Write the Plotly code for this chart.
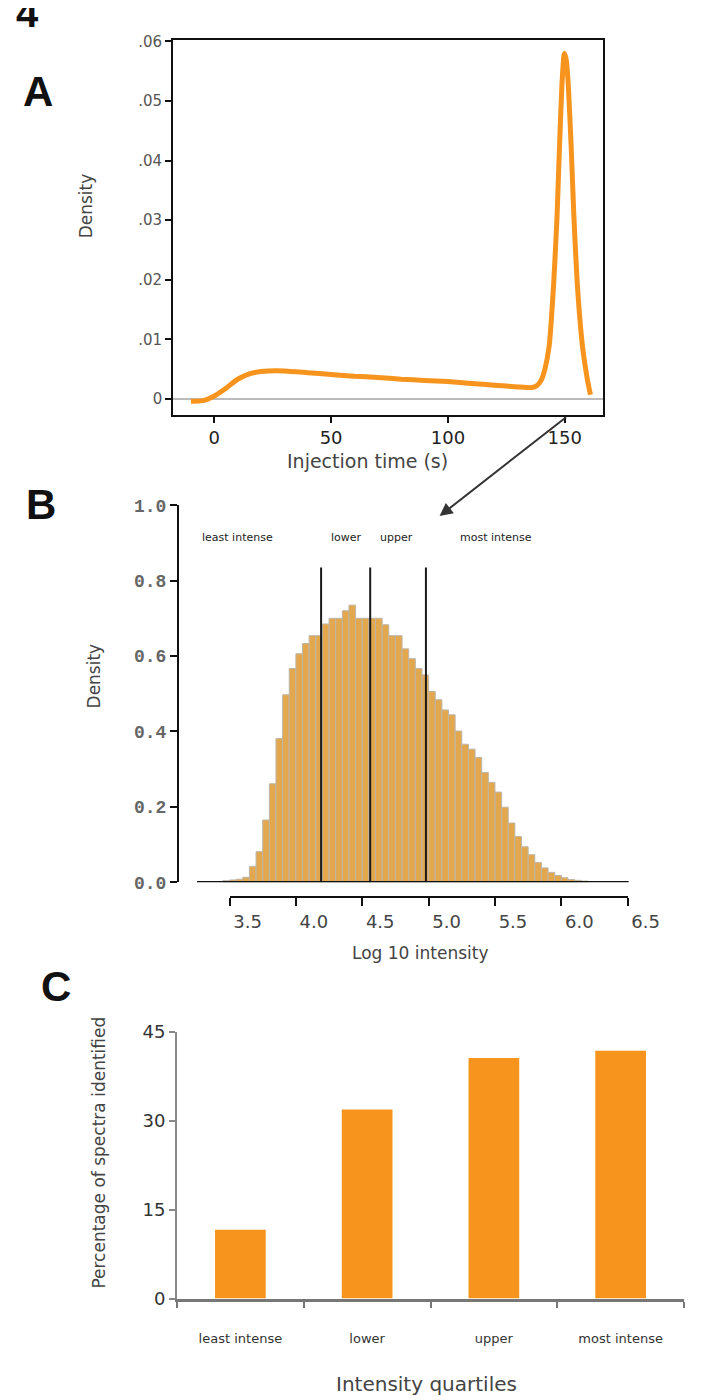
import plotly.graph_objects as go

# ---------------- data ----------------
# Panel A: density of injection time (s)
inj_time = [-10, -5, 0, 5, 10, 15, 20, 30, 40, 50, 60, 70, 80, 90, 100, 110, 120, 130,
            136, 138, 140, 141.5, 143.3, 145.3, 146.7, 147.7, 148.8, 149.8, 150.6, 151.5,
            152.8, 153.9, 155.3, 157.6, 159.7, 161]
inj_density = [-0.0004, -0.0003, 0.0005, 0.0018, 0.0033, 0.0042, 0.0046, 0.0047, 0.0044,
               0.0041, 0.0038, 0.0036, 0.0033, 0.0031, 0.0029, 0.0026, 0.0023, 0.0020,
               0.0019, 0.0022, 0.0032, 0.0050, 0.0088, 0.0197, 0.0307, 0.0418, 0.0528,
               0.0580, 0.0570, 0.0528, 0.0418, 0.0307, 0.0197, 0.0088, 0.0032, 0.0007]
a_yticks = [0, 0.01, 0.02, 0.03, 0.04, 0.05, 0.06]
a_yticktext = ["0", ".01", ".02", ".03", ".04", ".05", ".06"]
a_xticks = [0, 50, 100, 150]

# Panel B: histogram of log10 intensity (bin centres, width 0.05)
bin_centers = [3.475, 3.525, 3.575, 3.625, 3.675, 3.725, 3.775, 3.825, 3.875, 3.925, 3.975,
               4.025, 4.075, 4.125, 4.175, 4.225, 4.275, 4.325, 4.375, 4.425, 4.475, 4.525,
               4.575, 4.625, 4.675, 4.725, 4.775, 4.825, 4.875, 4.925, 4.975, 5.025, 5.075,
               5.125, 5.175, 5.225, 5.275, 5.325, 5.375, 5.425, 5.475, 5.525, 5.575, 5.625,
               5.675, 5.725, 5.775, 5.825, 5.875, 5.925, 5.975, 6.025, 6.075, 6.125, 6.175]
bin_density = [0.004, 0.006, 0.008, 0.013, 0.042, 0.081, 0.165, 0.261, 0.381, 0.497, 0.567,
               0.606, 0.633, 0.654, 0.654, 0.685, 0.700, 0.700, 0.720, 0.735, 0.700, 0.700,
               0.700, 0.700, 0.683, 0.654, 0.654, 0.619, 0.593, 0.567, 0.550, 0.506, 0.484,
               0.457, 0.444, 0.401, 0.366, 0.353, 0.331, 0.291, 0.265, 0.239, 0.199, 0.157,
               0.121, 0.094, 0.073, 0.052, 0.038, 0.026, 0.018, 0.012, 0.007, 0.005, 0.003]
bin_width = 0.05
quartile_cuts = [4.19, 4.56, 4.98]
cut_top = 0.835
quartile_names = ["least intense", "lower", "upper", "most intense"]
quartile_label_x = [3.56, 4.38, 4.76, 5.51]
quartile_label_y = 0.915
b_yticks = [0.0, 0.2, 0.4, 0.6, 0.8, 1.0]
b_yticktext = ["0.0", "0.2", "0.4", "0.6", "0.8", "1.0"]
b_xticks = [3.5, 4.0, 4.5, 5.0, 5.5, 6.0, 6.5]
b_xticktext = ["3.5", "4.0", "4.5", "5.0", "5.5", "6.0", "6.5"]

# Panel C: percentage of spectra identified per intensity quartile
pct_identified = [11.6, 31.9, 40.6, 41.8]
c_yticks = [0, 15, 30, 45]

# ---------------- layout helpers ----------------
W, H = 708, 1400
def fx(p):
    return p / W
def fy(p):
    return 1 - p / H

ORANGE = "#F7941D"
FONT = "DejaVu Sans"

fig = go.Figure()

fig.add_trace(go.Scatter(
    x=inj_time, y=inj_density, mode="lines",
    line=dict(color=ORANGE, width=5, shape="spline", smoothing=0.5),
    xaxis="x", yaxis="y", hoverinfo="skip", showlegend=False))

fig.add_trace(go.Bar(
    x=bin_centers, y=bin_density, width=bin_width,
    marker=dict(color="#E3A84E", line=dict(color="#BDB5A8", width=1)),
    xaxis="x2", yaxis="y2", showlegend=False))

# quartile boundaries, drawn on the lower tick axis of panel B
cut_x, cut_y = [], []
for c in quartile_cuts:
    cut_x += [c, c, None]
    cut_y += [0, cut_top, None]
fig.add_trace(go.Scatter(x=cut_x, y=cut_y, mode="lines",
                         line=dict(color="#1a1a1a", width=2),
                         xaxis="x3", yaxis="y2", hoverinfo="skip", showlegend=False,
                         cliponaxis=False))

fig.add_trace(go.Bar(
    x=quartile_names, y=pct_identified, width=0.4,
    marker=dict(color=ORANGE, line=dict(width=0)),
    xaxis="x4", yaxis="y4", showlegend=False))

annotations = []
for name, lx in zip(quartile_names, quartile_label_x):
    annotations.append(dict(text=name, x=lx, y=quartile_label_y, xref="x2", yref="y2",
                            showarrow=False, font=dict(family=FONT, size=11, color="#222")))

def txt(s, x, y, size, color="#444", angle=0, bold=False, family=FONT):
    return dict(text=("<b>%s</b>" % s) if bold else s, x=fx(x), y=fy(y), xref="paper",
                yref="paper", showarrow=False, textangle=angle,
                xanchor="center", yanchor="middle",
                font=dict(family=family, size=size, color=color))

annotations += [
    txt("4", 20, -6, 40, "#111", bold=True, family="Liberation Sans"),
    txt("A", 31, 74, 42, "#111", bold=True, family="Liberation Sans"),
    txt("B", 35, 493, 42, "#111", bold=True, family="Liberation Sans"),
    txt("C", 50, 983, 42, "#111", bold=True, family="Liberation Sans"),
    txt("Density", 82, 190, 17, "#444", angle=-90),
    txt("Injection time (s)", 376, 449, 19, "#444"),
    txt("Density", 90, 667, 17, "#444", angle=-90),
    txt("Log 10 intensity", 432, 949, 17, "#444"),
    txt("Percentage of spectra identified", 95, 1152, 17, "#444", angle=-90),
    txt("Intensity quartiles", 438, 1387, 20, "#444"),
]
# connector arrow from panel A peak to panel B
annotations.append(dict(x=fx(452), y=fy(505), xref="paper", yref="paper", text="",
                        showarrow=True, ax=580 - 452, ay=405 - 505, axref="pixel",
                        ayref="pixel", arrowhead=2, arrowsize=1.3, arrowwidth=2,
                        arrowcolor="#333"))

shapes = [dict(type="line", xref="paper", yref="y2", x0=fx(198), x1=fx(650), y0=0, y1=0,
               line=dict(color="#111", width=2.5), layer="above")]

fig.update_layout(
    width=W, height=H, margin=dict(l=0, r=0, t=0, b=0),
    paper_bgcolor="white", plot_bgcolor="rgba(0,0,0,0)", showlegend=False,
    annotations=annotations, shapes=shapes,
    xaxis=dict(domain=[fx(173), fx(623)], range=[-17.6, 166.3], anchor="y",
               showline=True, linecolor="#111", linewidth=2, mirror=True,
               ticks="outside", ticklen=6, tickwidth=2, tickcolor="#111",
               tickvals=a_xticks, tickfont=dict(family=FONT, size=18, color="#222"),
               showgrid=False, zeroline=False),
    yaxis=dict(domain=[fy(402), fy(21)], range=[-0.00265, 0.0603], anchor="x",
               showline=True, linecolor="#111", linewidth=2, mirror=True,
               ticks="outside", ticklen=6, tickwidth=2, tickcolor="#111",
               tickvals=a_yticks, ticktext=a_yticktext,
               tickfont=dict(family=FONT, size=15, color="#555"),
               showgrid=False, zeroline=True, zerolinecolor="#BBBBBB", zerolinewidth=2),
    xaxis2=dict(domain=[fx(198), fx(650)], range=[3.2554, 6.507], anchor="y2",
                showline=False, ticks="", showticklabels=False,
                showgrid=False, zeroline=False),
    yaxis2=dict(domain=[fy(877), fy(494)], range=[0, 1.0], anchor="free",
                position=fx(178), side="left",
                showline=True, linecolor="#111", linewidth=2,
                ticks="outside", ticklen=7, tickwidth=2, tickcolor="#111",
                tickvals=b_yticks, ticktext=b_yticktext,
                tickfont=dict(family="Liberation Mono", size=18, color="#666", weight="bold"),
                showgrid=False, zeroline=False),
    xaxis3=dict(domain=[fx(232), fx(649)], range=[3.5, 6.5], anchor="free",
                position=fy(892), side="bottom",
                showline=True, linecolor="#111", linewidth=2,
                ticks="outside", ticklen=8, tickwidth=2, tickcolor="#111",
                tickvals=b_xticks, ticktext=b_xticktext, ticklabelshift=18,
                tickfont=dict(family=FONT, size=18, color="#444"),
                showgrid=False, zeroline=False),
    xaxis4=dict(domain=[fx(177), 1.0], type="category", range=[-0.5, 3.5], anchor="y4",
                showline=True, linecolor="#777", linewidth=3,
                ticks="outside", tickson="boundaries", ticklen=6, tickwidth=2,
                tickcolor="#777", ticklabelstandoff=26,
                tickfont=dict(family=FONT, size=13, color="#333"),
                showgrid=False, zeroline=False),
    yaxis4=dict(domain=[fy(1300), fy(1029)], range=[0, 45], anchor="x4",
                showline=True, linecolor="#888", linewidth=2,
                ticks="outside", ticklen=6, tickwidth=2, tickcolor="#888",
                tickvals=c_yticks, tickfont=dict(family=FONT, size=18, color="#333"),
                showgrid=False, zeroline=False),
)

fig.write_html("out.html")
